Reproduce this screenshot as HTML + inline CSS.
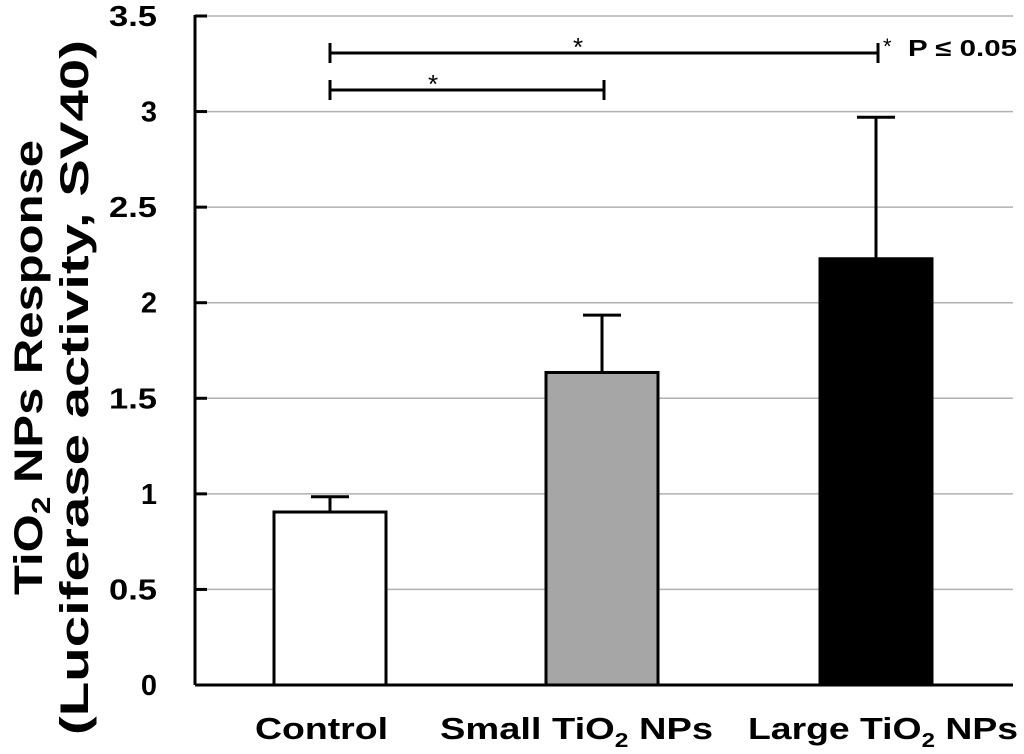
<!DOCTYPE html>
<html><head><meta charset="utf-8"><style>
html,body{margin:0;padding:0;background:#fff;}
svg{display:block;font-family:"Liberation Sans",Arial,sans-serif;font-weight:bold;}
</style></head><body>
<svg id="chart" width="1024" height="754" viewBox="0 0 1024 754"></svg>
<script>
const categories = ["Control", "Small TiO2 NPs", "Large TiO2 NPs"];
const values = [0.905, 1.635, 2.23];
const errors = [0.08, 0.30, 0.74];
const fills = ["#ffffff", "#a6a6a6", "#000000"];
const yTicks = [0, 0.5, 1, 1.5, 2, 2.5, 3, 3.5];
const yTickLabels = ["0", "0.5", "1", "1.5", "2", "2.5", "3", "3.5"];

const NS = "http://www.w3.org/2000/svg";
const svg = document.getElementById("chart");
const x0 = 195, x1 = 1013, yBase = 685, yTop = 16, yMax = 3.5;
function y(v){ return yBase - (v / yMax) * (yBase - yTop); }
const centers = [330, 602, 876];
const barW = 112;
function xc(i){ return centers[i]; }
function mk(tag, attrs){ const e = document.createElementNS(NS, tag); for (const k in attrs) e.setAttribute(k, attrs[k]); svg.appendChild(e); return e; }

yTicks.forEach((t, i) => {
  if (t > 0) {
    const g = mk("line", {x1: x0, x2: x1, y1: y(t), y2: y(t), stroke: "#b0b0b0", "stroke-width": 1.5});
    
    
  }
  const tk = mk("line", {x1: x0, x2: x0 + 12, y1: y(t), y2: y(t), stroke: "#000", "stroke-width": 3});
  
  
  const lab = yTickLabels[i];
  const attrs = {x: 157, y: y(t) + 10, "text-anchor": "end", "font-size": 29};
  if (lab.length > 1) { attrs.textLength = 48; attrs.lengthAdjust = "spacingAndGlyphs"; }
  const lb = mk("text", attrs);
  lb.textContent = lab;
  
  
});

values.forEach((v, i) => {
  const cx = xc(i);
  const e = mk("line", {x1: cx, x2: cx, y1: y(v + errors[i]), y2: y(v), stroke: "#000", "stroke-width": 3});
  
  
  const c = mk("line", {x1: cx - 19, x2: cx + 19, y1: y(v + errors[i]), y2: y(v + errors[i]), stroke: "#000", "stroke-width": 3});
  
  
  const r = mk("rect", {x: cx - barW / 2, y: y(v), width: barW, height: yBase - y(v), fill: fills[i], stroke: "#000", "stroke-width": 3});
  
  
});

const ax = mk("line", {x1: x0, x2: x0, y1: yTop - 1, y2: yBase, stroke: "#000", "stroke-width": 3});


const bx = mk("line", {x1: x0, x2: x1, y1: yBase, y2: yBase, stroke: "#000", "stroke-width": 3});



[[0, 2, 53, 578], [0, 1, 90, 433]].forEach(s => {
  const a = xc(s[0]), b = xc(s[1]) + 2, yy = s[2];
  const l = mk("path", {d: `M${a},${yy - 10}V${yy + 10}M${a},${yy}H${b}M${b},${yy - 10}V${yy + 10}`, stroke: "#000", "stroke-width": 3, fill: "none"});
  
  
  const st = mk("text", {x: s[3], y: yy + 3, "text-anchor": "middle", "font-size": 26, "font-weight": "normal"});
  st.textContent = "*";
  
  
});
</script>
<svg width="1024" height="754" viewBox="0 0 1024 754" style="position:absolute;left:0;top:0;font-family:'Liberation Sans',Arial,sans-serif;font-weight:bold;">
  <text x="883" y="54" font-size="22" font-weight="normal">*</text>
  <text x="908" y="56" font-size="23" textLength="109" lengthAdjust="spacingAndGlyphs">P ≤ 0.05</text>
  <text x="255" y="739" font-size="31" textLength="133" lengthAdjust="spacingAndGlyphs">Control</text>
  <text x="440" y="739" font-size="31" textLength="273" lengthAdjust="spacingAndGlyphs">Small TiO<tspan font-size="20" dy="8">2</tspan><tspan dy="-8"> NPs</tspan></text>
  <text x="748" y="739" font-size="31" textLength="270" lengthAdjust="spacingAndGlyphs">Large TiO<tspan font-size="20" dy="8">2</tspan><tspan dy="-8"> NPs</tspan></text>
  <text transform="translate(42,595) rotate(-90)" font-size="40" textLength="455" lengthAdjust="spacingAndGlyphs">TiO<tspan font-size="26" dy="8">2</tspan><tspan dy="-8"> NPs Response</tspan></text>
  <text transform="translate(88,735) rotate(-90)" font-size="40" textLength="695" lengthAdjust="spacingAndGlyphs">(Luciferase activity,  SV40)</text>
</svg>
</body></html>
